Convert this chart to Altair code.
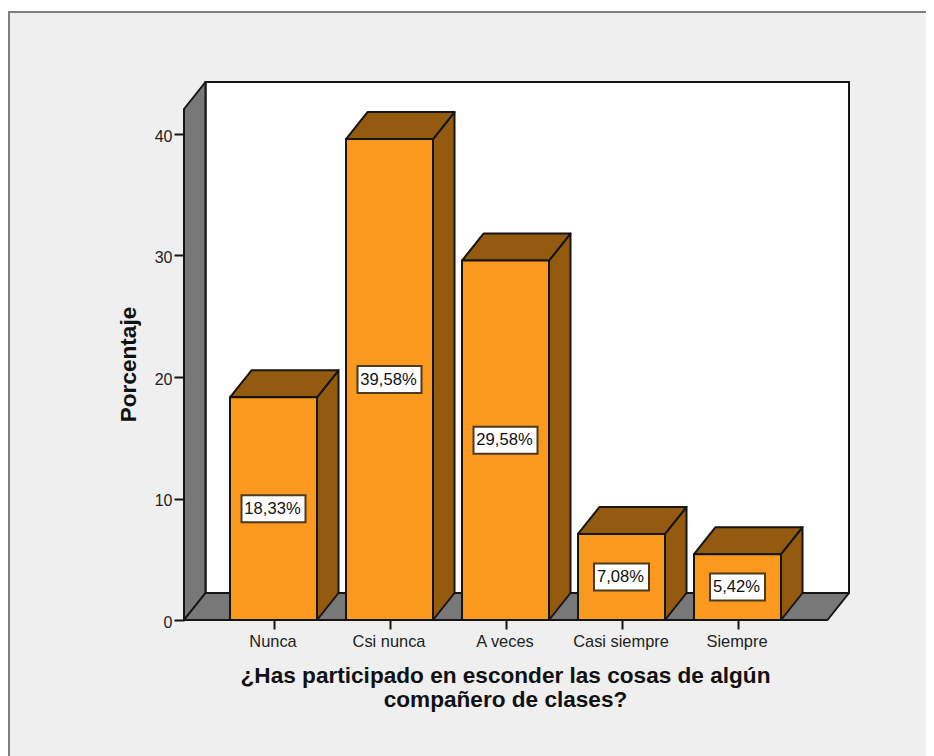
import altair as alt
import pandas as pd

categories = ["Nunca", "Csi nunca", "A veces", "Casi siempre", "Siempre"]
values = [18.33, 39.58, 29.58, 7.08, 5.42]
y_ticks = [0, 10, 20, 30, 40]

X_TITLE = ["¿Has participado en esconder las cosas de algún", "compañero de clases?"]
Y_TITLE = "Porcentaje"

ORANGE = "#FB991E"
BROWN = "#945A10"
GRAY = "#787878"
BG = "#EFEFEF"
INK = "#151515"
FONT = "Liberation Sans"

PX_X = 116.0     # pixels per category step
PX_Y = 12.15     # pixels per percent
W, H = 665, 538
X_MIN = (184 - 273.5) / PX_X
X_MAX = X_MIN + W / PX_X
Y_MAX = H / PX_Y
DX = 21.5 / PX_X
DY = 27 / PX_Y
HALF = 43.5 / PX_X
FLOOR_RIGHT = X_MAX - DX

xs = alt.Scale(domain=[X_MIN, X_MAX], nice=False, zero=False)
ys = alt.Scale(domain=[0, Y_MAX], nice=False, zero=False)

x_axis = alt.Axis(
    values=list(range(len(categories))), domain=False, grid=False, zindex=1,
    tickSize=9, tickWidth=2, tickColor=INK,
    labelExpr="[" + ",".join(f"'{c}'" for c in categories) + "][datum.value]",
    labelFont=FONT, labelFontSize=16.4, labelColor="#222222", labelPadding=4,
    labelOffset=-1,
    labelFlush=False, labelOverlap=False,
    title=X_TITLE, titleFont=FONT, titleFontSize=22.6, titleFontWeight="bold",
    titleColor="#111111", titleLineHeight=24, titlePadding=15,
    titleX=321, titleBaseline="top",
)
y_axis = alt.Axis(
    values=y_ticks, domain=False, grid=False, zindex=1,
    tickSize=10, tickWidth=2, tickColor=INK,
    labelFont=FONT, labelFontSize=16, labelColor="#222222", labelPadding=2,
    labelOffset=2,
    title=Y_TITLE, titleFont=FONT, titleFontSize=22.6, titleFontWeight="bold",
    titleColor="#111111", titleX=-44, titleY=282,
)


def X(f="x", **k):
    return alt.X(f"{f}:Q", scale=xs, axis=x_axis, **k)


def Y(f="y", **k):
    return alt.Y(f"{f}:Q", scale=ys, axis=y_axis, **k)


rows = [{"i": i, "cat": c, "v": v} for i, (c, v) in enumerate(zip(categories, values))]
bars = pd.DataFrame(rows)
bars["l"] = bars.i - HALF
bars["r"] = bars.i + HALF
bars["b"] = 0.0
bars["text"] = [f"{v:.2f}".replace(".", ",") + "%" for v in values]
bars["mid"] = bars.v / 2
bars["bl"] = bars.i - (bars.text.str.len() * 9 + 10) / 2 / PX_X
bars["br"] = bars.i + (bars.text.str.len() * 9 + 10) / 2 / PX_X
bars["bb"] = bars.mid - 13.5 / PX_Y
bars["bt"] = bars.mid + 13.5 / PX_Y

side = []
top = []
for r in rows:
    i, v = r["i"], r["v"]
    for t in (0, 1):
        side.append(dict(id=i, x=i + HALF + t * DX, y=t * DY, y2=v + t * DY))
        top.append(dict(id=i, y=v + t * DY, x=i - HALF + t * DX, x2=i + HALF + t * DX))
side = pd.DataFrame(side)
top = pd.DataFrame(top)

left_wall = pd.DataFrame([
    dict(id=0, x=X_MIN, y=0, y2=Y_MAX - DY),
    dict(id=0, x=X_MIN + DX, y=DY, y2=Y_MAX),
])
floor = pd.DataFrame([
    dict(id=0, y=0, x=X_MIN, x2=FLOOR_RIGHT),
    dict(id=0, y=DY, x=X_MIN + DX, x2=X_MAX),
])
back = pd.DataFrame([dict(x=X_MIN + DX, x2=X_MAX, y=DY, y2=Y_MAX)])

backdrop = alt.Chart(pd.DataFrame([{"a": 0}])).mark_rect(
    fill=BG, stroke="#7f7f7f", strokeWidth=2, clip=False
).encode(
    x=alt.value(-175), x2=alt.value(790), y=alt.value(-70), y2=alt.value(700)
)


def area(df, fill, **mk):
    return alt.Chart(df).mark_area(
        fill=fill, stroke=INK, strokeWidth=2, strokeJoin="round", opacity=1, **mk
    )


wall = alt.Chart(back).mark_rect(fill="white", stroke=INK, strokeWidth=2).encode(
    x=X(), x2="x2:Q", y=Y(), y2="y2:Q"
)
lw = area(left_wall, GRAY, orient="vertical").encode(x=X(), y=Y(), y2="y2:Q", detail="id:N")
fl = area(floor, GRAY, orient="horizontal").encode(y=Y(), x=X(), x2="x2:Q", detail="id:N")
sides = area(side, BROWN, orient="vertical").encode(x=X(), y=Y(), y2="y2:Q", detail="id:N")
tops = area(top, BROWN, orient="horizontal").encode(y=Y(), x=X(), x2="x2:Q", detail="id:N")
fronts = alt.Chart(bars).mark_rect(fill=ORANGE, stroke=INK, strokeWidth=2).encode(
    x=X("l"), x2="r:Q", y=Y("b"), y2="v:Q"
)
boxes = alt.Chart(bars).mark_rect(fill="white", stroke="#4a3a20", strokeWidth=2).encode(
    x=X("bl"), x2="br:Q", y=Y("bb"), y2="bt:Q"
)
texts = alt.Chart(bars).mark_text(font=FONT, fontSize=16.6, color="#111111", baseline="middle", dx=-1, dy=0).encode(
    x=X("i"), y=Y("mid"), text="text:N"
)

chart = alt.layer(backdrop, wall, lw, fl, sides, tops, fronts, boxes, texts).properties(
    width=W, height=H,
    padding={"left": 176, "top": 74, "right": 77, "bottom": 136},
    autosize=alt.AutoSizeParams(type="none"),
    background="white",
).configure_view(stroke=None)

chart.save("out.html", embed_options={"renderer": "svg", "actions": False})
